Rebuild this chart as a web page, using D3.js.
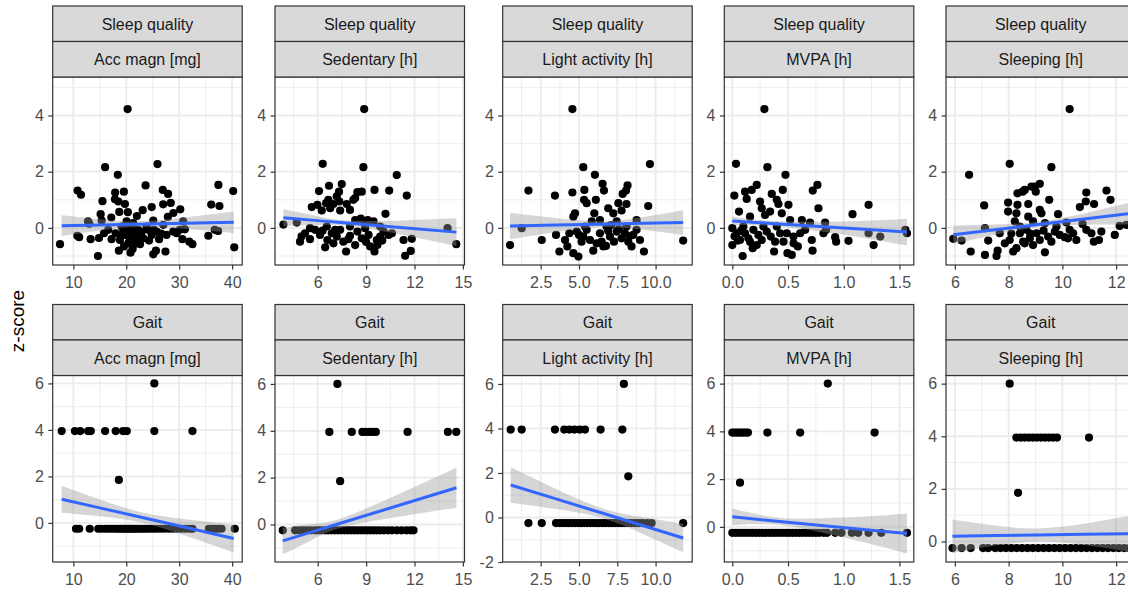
<!DOCTYPE html>
<html><head><meta charset="utf-8">
<script src="https://cdn.jsdelivr.net/npm/d3@7"></script>
<style>body{margin:0;background:#fff} svg{display:block}</style>
</head><body><svg id="chart" width="1128" height="592"></svg>
<script>
// ---------------- DATA ----------------
const rowLabels = ["Sleep quality", "Gait"];
const colLabels = ["Acc magn [mg]", "Sedentary [h]", "Light activity [h]", "MVPA [h]", "Sleeping [h]"];
const yTitle = "z-score";

const xTicks = [[10,20,30,40],[6,9,12,15],[2.5,5,7.5,10],[0,0.5,1,1.5],[6,8,10,12]];
const xTickLabels = [["10","20","30","40"],["6","9","12","15"],["2.5","5.0","7.5","10.0"],["0.0","0.5","1.0","1.5"],["6","8","10","12"]];
const yTicksSleep = [0,2,4];
const yTicksGait = [[0,2,4,6],[0,2,4,6],[-2,0,2,4,6],[0,2,4,6],[0,2,4,6]];

const xDomains = [[6.1,41.9],[3.35,15.1],[0.02,12.39],[-0.072,1.629],[5.67,12.72]];
const yDomainSleep = [-1.32,5.37];
const yDomainsGait = [[-1.68,6.34],[-1.6,6.36],[-2.0,6.38],[-1.47,6.34],[-0.78,6.31]];

// Sleep quality z-score vs activity measures [x, z]
const sleepAcc = [[20.25,4.23],[16.0,2.16],[25.9,2.27],[18.4,1.89],[23.65,1.51],[37.4,1.53],[10.8,1.33],[11.45,1.18],[17.9,1.26],[19.55,1.29],[26.9,1.35],[27.9,1.21],[40.2,1.31],[15.5,0.95],[17.86,1.02],[18.5,0.94],[19.75,0.85],[26.97,0.84],[28.4,0.89],[36.05,0.83],[37.6,0.78],[15.16,0.49],[18.68,0.57],[20.3,0.56],[23.1,0.63],[24.8,0.74],[30.2,0.66],[28.9,0.53],[17.17,0.37],[22.0,0.42],[27.86,0.39],[12.77,0.23],[15.35,0.26],[25.1,0.26],[30.75,0.23],[27.0,0.11],[36.7,-0.07],[37.35,-0.11],[7.48,-0.58],[10.75,-0.28],[11.1,-0.33],[13.27,-0.40],[14.84,-0.36],[14.65,-1.0],[17.23,-0.40],[18.6,-0.81],[20.8,-0.88],[25.1,-0.94],[25.6,-0.81],[27.4,-0.84],[26.2,-0.40],[27.6,-0.25],[30.6,-0.40],[31.9,-0.49],[32.5,-0.58],[35.5,-0.28],[40.4,-0.69],[22.6,-0.58],[23.2,-0.37],[24.15,-0.07],[20.19,-0.07],[21.0,-0.19],[21.6,-0.33],[19.43,-0.13],[18.8,-0.43],[20.38,-0.55],[19.56,-0.66],[21.3,-0.61],[22.26,-0.07],[22.58,-0.25],[24.8,-0.25],[25.22,-0.07],[25.72,-0.13],[28.87,-0.13],[29.5,-0.19],[30.12,-0.07],[31.07,-0.05],[23.84,0.05],[21.3,0.17],[20.06,0.23],[19.12,0.05],[17.99,-0.19],[16.6,-0.07],[15.79,-0.19],[19.0,-0.3],[20.6,-0.35],[21.9,-0.45],[19.9,-0.25],[20.9,0.0],[22.9,-0.15],[21.2,-0.75],[13.0,0.15],[24.3,-0.45],[26.6,-0.2]];
const sleepSed = [[8.88,4.23],[6.31,2.28],[8.83,2.16],[10.9,1.88],[6.08,1.31],[6.7,1.5],[7.49,1.56],[9.52,1.35],[10.43,1.33],[11.52,1.15],[7.32,1.29],[7.18,1.12],[8.46,1.27],[8.73,1.29],[8.32,1.06],[6.66,1.0],[6.52,0.88],[5.98,0.82],[5.63,0.74],[6.97,0.85],[7.34,0.94],[7.8,0.85],[8.21,1.0],[8.0,0.64],[7.39,0.62],[6.77,0.7],[6.25,0.62],[10.2,0.5],[8.67,0.33],[9.1,0.28],[9.46,0.23],[3.87,0.12],[4.7,0.19],[14.05,-0.01],[14.59,-0.58],[11.32,-0.43],[11.83,-0.39],[11.42,-0.99],[11.77,-0.82],[4.9,-0.49],[5.21,-0.19],[5.52,-0.4],[5.83,-0.07],[6.14,-0.25],[6.46,-0.69],[6.6,-0.43],[6.87,-0.19],[7.18,-0.31],[7.39,-0.07],[7.59,-0.49],[7.76,-0.84],[8.0,-0.28],[8.32,-0.61],[8.46,-0.13],[8.73,-0.37],[8.94,-0.01],[9.15,-0.25],[9.25,-0.66],[9.52,-0.84],[9.7,-0.61],[9.87,-0.31],[10.08,-0.13],[10.39,-0.25],[10.6,-0.19],[9.66,-0.43],[6.97,-0.55],[7.08,-0.07],[6.56,0.05],[5.52,-0.01],[8.0,0.05],[8.83,0.23],[8.32,0.28],[9.87,0.05],[5.0,-0.3],[6.3,-0.1],[7.9,-0.4],[9.0,-0.5],[10.0,-0.45]];
const sleepLight = [[4.57,4.23],[9.63,2.27],[5.28,2.16],[6.04,1.89],[1.7,1.33],[3.43,1.15],[4.57,1.26],[5.35,1.35],[6.54,1.57],[6.63,1.33],[8.17,1.51],[8.07,1.33],[7.85,1.21],[5.33,1.0],[5.5,0.88],[6.1,1.0],[9.52,0.78],[4.74,0.52],[4.63,0.4],[6.0,0.52],[6.91,0.7],[7.57,0.88],[8.1,0.85],[7.24,0.52],[7.78,0.62],[8.76,0.28],[1.26,-0.01],[0.5,-0.61],[2.57,-0.43],[3.5,-0.25],[3.72,-0.84],[4.09,-0.43],[4.24,-0.66],[4.63,-0.9],[4.96,-1.02],[4.37,-0.19],[4.85,-0.13],[5.28,-0.31],[5.5,-0.07],[5.72,-0.43],[5.93,-0.81],[6.15,-0.55],[6.37,-0.19],[6.59,-0.66],[6.76,-0.64],[6.8,0.05],[7.02,-0.31],[7.28,-0.49],[7.46,-0.13],[7.78,-0.37],[8.0,-0.19],[8.22,-0.49],[8.43,-0.66],[8.54,-0.25],[8.76,-0.07],[8.98,-0.43],[9.24,-0.84],[11.8,-0.45],[5.83,0.23],[6.37,0.28],[7.46,0.23],[5.39,0.05],[8.1,0.05],[5.17,-0.49],[6.48,-0.49],[7.1,0.1],[7.6,-0.05],[8.3,-0.3],[5.0,-0.25],[6.9,-0.1]];
const sleepMvpa = [[0.288,4.23],[0.033,2.28],[0.315,2.16],[0.477,1.89],[0.764,1.53],[0.722,1.33],[0.219,1.53],[0.174,1.35],[0.114,1.29],[0.453,1.35],[0.354,1.21],[0.018,1.15],[0.129,1.03],[0.249,0.94],[0.399,1.0],[0.414,0.85],[0.504,0.82],[0.06,0.58],[0.264,0.7],[0.339,0.58],[0.444,0.52],[0.773,0.7],[1.079,0.49],[1.223,0.82],[0.159,0.4],[0.294,0.46],[0.519,0.28],[0.624,0.28],[0.698,0.19],[0.833,0.19],[0.0,-0.01],[0.0,-0.61],[0.039,-0.19],[0.069,-0.43],[0.093,-1.0],[0.114,-0.19],[0.144,-0.37],[0.183,-0.72],[0.189,-0.07],[0.234,-0.25],[0.264,-0.43],[0.309,-0.13],[0.345,-0.31],[0.375,-0.84],[0.429,-0.19],[0.459,-0.49],[0.495,-0.9],[0.534,-0.96],[0.549,-0.31],[0.588,-0.66],[0.609,-0.19],[0.654,-0.07],[0.713,-0.43],[0.72,-0.81],[0.818,-0.19],[0.842,-0.07],[0.923,-0.33],[0.932,-0.49],[1.043,-0.46],[1.268,-0.61],[1.223,-0.19],[1.328,-0.31],[1.553,-0.07],[1.568,-0.19],[0.399,0.05],[0.279,0.05],[0.099,0.05],[0.489,-0.19],[0.219,-0.61],[0.384,-0.49],[0.02,-0.3],[0.05,-0.45],[0.08,-0.1],[0.16,-0.5],[0.55,-0.55]];
const sleepSleeping = [[10.27,4.23],[8.04,2.28],[9.59,2.16],[6.53,1.89],[9.16,1.57],[8.85,1.47],[8.6,1.35],[8.33,1.23],[8.52,1.29],[8.97,1.47],[9.01,1.29],[10.89,1.26],[11.64,1.33],[11.79,1.0],[9.51,1.0],[10.87,0.94],[11.18,0.85],[7.98,0.9],[8.33,0.82],[8.73,0.85],[7.09,0.8],[7.98,0.58],[8.29,0.52],[8.73,0.4],[9.16,0.64],[9.22,0.52],[9.84,0.49],[10.65,0.74],[5.94,-0.39],[6.25,-0.45],[6.59,-0.84],[7.12,-0.96],[7.24,-0.45],[7.55,-1.0],[7.59,-0.81],[7.12,-0.01],[7.67,-0.19],[7.86,-0.55],[8.04,-0.43],[8.17,-0.84],[8.29,-0.72],[8.42,-0.19],[8.54,-0.49],[8.66,-0.07],[8.79,-0.37],[8.91,-0.61],[9.04,-0.19],[9.16,-0.43],[9.35,-0.87],[9.47,-0.31],[9.59,-0.49],[9.72,-0.13],[9.78,0.05],[10.09,-0.33],[10.21,-0.37],[10.4,-0.19],[10.52,-0.43],[10.75,0.14],[10.89,-0.07],[11.08,-0.19],[11.17,-0.49],[11.36,-0.43],[11.45,-0.13],[11.95,-0.25],[12.13,0.07],[12.38,0.11],[8.23,0.23],[8.91,0.23],[8.42,0.05],[9.35,0.17],[10.15,0.19],[10.27,-0.07],[8.1,-0.2],[8.8,-0.2],[9.3,-0.1],[9.9,-0.25],[8.6,-0.55]];

// Gait z-score vs activity measures [x, z]
const gaitAcc = [[25.3,6.0],[7.8,3.95],[10.3,3.95],[11.3,3.95],[12.8,3.95],[13.3,3.95],[16.0,3.95],[18.0,3.95],[19.4,3.95],[20.1,3.95],[25.3,3.95],[32.5,3.95],[18.6,1.85],[10.5,-0.25],[11.1,-0.25],[13.1,-0.25],[14.7,-0.25],[15.3,-0.25],[16.0,-0.25],[16.6,-0.25],[17.2,-0.25],[17.8,-0.25],[18.3,-0.25],[18.8,-0.25],[19.2,-0.25],[19.6,-0.25],[20.0,-0.25],[20.4,-0.25],[20.8,-0.25],[21.2,-0.25],[21.6,-0.25],[22.0,-0.25],[22.5,-0.25],[23.0,-0.25],[23.5,-0.25],[24.0,-0.25],[24.6,-0.25],[25.2,-0.25],[25.8,-0.25],[26.5,-0.25],[27.2,-0.25],[28.0,-0.25],[28.8,-0.25],[29.6,-0.25],[30.4,-0.25],[31.2,-0.25],[32.0,-0.25],[32.5,-0.25],[35.6,-0.25],[36.2,-0.25],[36.8,-0.25],[37.4,-0.25],[38.0,-0.25],[40.5,-0.25]];
const gaitSed = [[7.22,6.0],[6.72,3.95],[8.11,3.95],[8.77,3.95],[8.97,3.95],[9.2,3.95],[9.4,3.95],[9.6,3.95],[11.57,3.95],[14.07,3.95],[14.59,3.95],[7.39,1.85],[3.83,-0.25],[4.6,-0.25],[4.85,-0.25],[5.1,-0.25],[5.35,-0.25],[5.6,-0.25],[5.85,-0.25],[6.05,-0.25],[6.25,-0.25],[6.45,-0.25],[6.65,-0.25],[6.85,-0.25],[7.05,-0.25],[7.25,-0.25],[7.45,-0.25],[7.65,-0.25],[7.85,-0.25],[8.05,-0.25],[8.25,-0.25],[8.45,-0.25],[8.65,-0.25],[8.85,-0.25],[9.05,-0.25],[9.25,-0.25],[9.45,-0.25],[9.65,-0.25],[9.85,-0.25],[10.1,-0.25],[10.35,-0.25],[10.6,-0.25],[10.9,-0.25],[11.2,-0.25],[11.5,-0.25],[11.75,-0.25],[11.94,-0.25]];
const gaitLight = [[7.93,6.0],[0.54,3.95],[1.26,3.95],[3.43,3.95],[4.04,3.95],[4.37,3.95],[4.7,3.95],[5.05,3.95],[5.39,3.95],[6.41,3.95],[7.83,3.95],[8.22,1.85],[1.7,-0.25],[2.57,-0.25],[3.5,-0.25],[3.75,-0.25],[3.95,-0.25],[4.15,-0.25],[4.35,-0.25],[4.55,-0.25],[4.75,-0.25],[4.95,-0.25],[5.15,-0.25],[5.35,-0.25],[5.55,-0.25],[5.75,-0.25],[5.95,-0.25],[6.15,-0.25],[6.35,-0.25],[6.55,-0.25],[6.75,-0.25],[6.95,-0.25],[7.15,-0.25],[7.35,-0.25],[7.55,-0.25],[7.75,-0.25],[7.95,-0.25],[8.15,-0.25],[8.4,-0.25],[8.65,-0.25],[8.9,-0.25],[9.15,-0.25],[9.45,-0.25],[9.74,-0.25],[11.8,-0.25]];
const gaitMvpa = [[0.857,6.0],[0.0,3.95],[0.02,3.95],[0.04,3.95],[0.06,3.95],[0.08,3.95],[0.10,3.95],[0.12,3.95],[0.14,3.95],[0.315,3.95],[0.609,3.95],[1.277,3.95],[0.069,1.85],[0.0,-0.25],[0.03,-0.25],[0.06,-0.25],[0.09,-0.25],[0.12,-0.25],[0.15,-0.25],[0.18,-0.25],[0.21,-0.25],[0.24,-0.25],[0.27,-0.25],[0.30,-0.25],[0.33,-0.25],[0.36,-0.25],[0.39,-0.25],[0.42,-0.25],[0.45,-0.25],[0.48,-0.25],[0.51,-0.25],[0.54,-0.25],[0.57,-0.25],[0.60,-0.25],[0.63,-0.25],[0.66,-0.25],[0.69,-0.25],[0.72,-0.25],[0.75,-0.25],[0.78,-0.25],[0.82,-0.25],[0.85,-0.25],[0.923,-0.25],[0.98,-0.25],[1.073,-0.25],[1.13,-0.25],[1.223,-0.25],[1.337,-0.25],[1.568,-0.25]];
const gaitSleeping = [[8.04,6.0],[8.29,3.95],[8.45,3.95],[8.6,3.95],[8.75,3.95],[8.9,3.95],[9.05,3.95],[9.2,3.95],[9.35,3.95],[9.5,3.95],[9.65,3.95],[9.8,3.95],[10.99,3.95],[8.35,1.85],[5.91,-0.25],[6.25,-0.25],[6.59,-0.25],[7.05,-0.25],[7.24,-0.25],[7.5,-0.25],[7.7,-0.25],[7.9,-0.25],[8.1,-0.25],[8.3,-0.25],[8.5,-0.25],[8.7,-0.25],[8.9,-0.25],[9.1,-0.25],[9.3,-0.25],[9.5,-0.25],[9.7,-0.25],[9.9,-0.25],[10.1,-0.25],[10.3,-0.25],[10.5,-0.25],[10.7,-0.25],[10.9,-0.25],[11.1,-0.25],[11.3,-0.25],[11.5,-0.25],[11.7,-0.25],[11.9,-0.25],[12.1,-0.25],[12.3,-0.25],[12.5,-0.25]];

// Linear fits with 95% CI: [x, fit, lower, upper]
const fitSleepAcc = [[7.8,0.08,-0.29,0.45],[15,0.107,-0.093,0.307],[22,0.132,0.032,0.232],[31,0.166,-0.034,0.366],[40.3,0.20,-0.18,0.58]];
const fitSleepSed = [[3.87,0.36,0.06,0.66],[6,0.259,0.099,0.419],[8,0.164,0.064,0.264],[11.3,0.007,-0.253,0.267],[14.6,-0.15,-0.64,0.34]];
const fitSleepLight = [[0.5,0.07,-0.40,0.54],[3.5,0.102,-0.148,0.352],[6.5,0.134,0.034,0.234],[9.2,0.162,-0.068,0.392],[11.8,0.19,-0.25,0.63]];
const fitSleepMvpa = [[0,0.25,0.10,0.40],[0.35,0.161,0.071,0.251],[0.75,0.059,-0.101,0.219],[1.15,-0.043,-0.333,0.247],[1.568,-0.15,-0.63,0.33]];
const fitSleepSleeping = [[5.94,-0.24,-0.57,0.09],[7.5,-0.062,-0.242,0.118],[9.1,0.12,0.02,0.22],[10.8,0.314,0.114,0.514],[12.6,0.52,0.12,0.92]];
const fitGaitAcc = [[7.8,1.02,0.44,1.60],[15,0.646,0.286,1.006],[23,0.23,0.01,0.45],[31.5,-0.21,-0.57,0.15],[40.3,-0.67,-1.27,-0.07]];
const fitGaitSed = [[3.83,-0.70,-1.27,-0.13],[5.7,-0.306,-0.636,0.024],[7.5,0.074,-0.126,0.274],[11,0.811,0.331,1.291],[14.6,1.57,0.72,2.42]];
const fitGaitLight = [[0.54,1.46,0.66,2.26],[3.5,0.834,0.384,1.284],[6.5,0.2,-0.02,0.42],[9.2,-0.371,-0.751,0.009],[11.8,-0.92,-1.56,-0.28]];
const fitGaitMvpa = [[0,0.42,0.07,0.77],[0.4,0.241,0.091,0.391],[0.8,0.063,-0.237,0.363],[1.2,-0.116,-0.666,0.434],[1.568,-0.28,-1.12,0.56]];
const fitGaitSleeping = [[5.91,0.2,-0.44,0.84],[7.5,0.223,-0.157,0.603],[9.1,0.247,-0.003,0.497],[10.8,0.271,-0.129,0.671],[12.6,0.298,-0.402,0.998]];

const points = [[sleepAcc, sleepSed, sleepLight, sleepMvpa, sleepSleeping],[gaitAcc, gaitSed, gaitLight, gaitMvpa, gaitSleeping]];
const fits = [[fitSleepAcc, fitSleepSed, fitSleepLight, fitSleepMvpa, fitSleepSleeping],[fitGaitAcc, fitGaitSed, fitGaitLight, fitGaitMvpa, fitGaitSleeping]];

// ---------------- LAYOUT ----------------
const colLeft = [52.7, 275, 502.7, 724.3, 946];
const panelW = 189.5;
const stripTop = [6, 304.5];
const stripH = 35.5;
const panelTop = [77, 375.5];
const panelBottom = [265, 562];
const FONT = "'Liberation Sans', Arial, Helvetica, sans-serif";

const svg = d3.select("#chart");
svg.append("rect").attr("width",1128).attr("height",592).attr("fill","#fff");

function minorTicks(major, dom){
  const step = major[1]-major[0];
  const out = [];
  for (let v = major[0]-step/2; v <= dom[1]; v += step) if (v >= dom[0]) out.push(v);
  return out;
}

for (let r = 0; r < 2; r++) {
  for (let c = 0; c < 5; c++) {
    const px = colLeft[c], top = panelTop[r], bot = panelBottom[r];
    const x = d3.scaleLinear().domain(xDomains[c]).range([px, px + panelW]);
    const yDom = r === 0 ? yDomainSleep : yDomainsGait[c];
    const yT = r === 0 ? yTicksSleep : yTicksGait[c];
    const y = d3.scaleLinear().domain(yDom).range([bot, top]);
    const g = svg.append("g");
    const clipId = `clip-${r}-${c}`;
    g.append("clipPath").attr("id", clipId).append("rect")
      .attr("x", px).attr("y", top).attr("width", panelW).attr("height", bot - top);
    const pg = g.append("g").attr("clip-path", `url(#${clipId})`);
    pg.append("rect").attr("x", px).attr("y", top).attr("width", panelW).attr("height", bot - top).attr("fill", "#fff");

    // grid
    const xMinor = minorTicks(xTicks[c], xDomains[c]);
    const yMinor = minorTicks(yT, yDom);
    pg.selectAll(null).data(xMinor).join("line")
      .attr("x1", d => x(d)).attr("x2", d => x(d)).attr("y1", top).attr("y2", bot)
      .attr("stroke", "#ebebeb").attr("stroke-width", 0.9);
    pg.selectAll(null).data(yMinor).join("line")
      .attr("y1", d => y(d)).attr("y2", d => y(d)).attr("x1", px).attr("x2", px + panelW)
      .attr("stroke", "#ebebeb").attr("stroke-width", 0.9);
    pg.selectAll(null).data(xTicks[c]).join("line")
      .attr("x1", d => x(d)).attr("x2", d => x(d)).attr("y1", top).attr("y2", bot)
      .attr("stroke", "#ebebeb").attr("stroke-width", 1.8);
    pg.selectAll(null).data(yT).join("line")
      .attr("y1", d => y(d)).attr("y2", d => y(d)).attr("x1", px).attr("x2", px + panelW)
      .attr("stroke", "#ebebeb").attr("stroke-width", 1.8);

    // points
    pg.selectAll(null).data(points[r][c]).join("circle")
      .attr("cx", d => x(d[0])).attr("cy", d => y(d[1])).attr("r", 4.1).attr("fill", "#000");

    // ribbon + fit
    const f = fits[r][c];
    pg.append("path").datum(f)
      .attr("d", d3.area().x(d => x(d[0])).y0(d => y(d[2])).y1(d => y(d[3])).curve(d3.curveNatural))
      .attr("fill", "#999999").attr("fill-opacity", 0.4);
    pg.append("path").datum(f)
      .attr("d", d3.line().x(d => x(d[0])).y(d => y(d[1])))
      .attr("fill", "none").attr("stroke", "#3366FF").attr("stroke-width", 3);

    // border
    g.append("rect").attr("x", px).attr("y", top).attr("width", panelW).attr("height", bot - top)
      .attr("fill", "none").attr("stroke", "#333333").attr("stroke-width", 1.2);

    // strips
    const labels = [rowLabels[r], colLabels[c]];
    labels.forEach((lab, i) => {
      const sy = stripTop[r] + i * stripH;
      g.append("rect").attr("x", px).attr("y", sy).attr("width", panelW).attr("height", stripH)
        .attr("fill", "#d9d9d9").attr("stroke", "#333333").attr("stroke-width", 1.2);
      g.append("text").attr("x", px + panelW / 2).attr("y", sy + stripH / 2)
        .attr("text-anchor", "middle").attr("dy", "0.36em")
        .attr("font-family", FONT).attr("font-size", 16).attr("fill", "#1a1a1a").text(lab);
    });

    // axes
    const xa = d3.axisBottom(x).tickValues(xTicks[c]).tickFormat((d, i) => xTickLabels[c][i])
      .tickSize(4.4).tickSizeOuter(0).tickPadding(7.5);
    const gx = g.append("g").attr("transform", `translate(0,${bot})`).call(xa);
    const ya = d3.axisLeft(y).tickValues(yT).tickFormat(d => d3.format("d")(d).replace("−","-"))
      .tickSize(4.4).tickSizeOuter(0).tickPadding(4.5);
    const gy = g.append("g").attr("transform", `translate(${px},0)`).call(ya);
    [gx, gy].forEach(ax => {
      ax.select(".domain").remove();
      ax.selectAll(".tick line").attr("stroke", "#333333").attr("stroke-width", 1.2);
      ax.selectAll(".tick text").attr("fill", "#4d4d4d").attr("font-family", FONT).attr("font-size", 16);
    });
  }
}

svg.append("text").attr("transform", "translate(17,321) rotate(-90)")
  .attr("text-anchor", "middle").attr("dy", "0.36em")
  .attr("font-family", FONT).attr("font-size", 19).attr("fill", "#000").text(yTitle);
</script>
</body></html>
